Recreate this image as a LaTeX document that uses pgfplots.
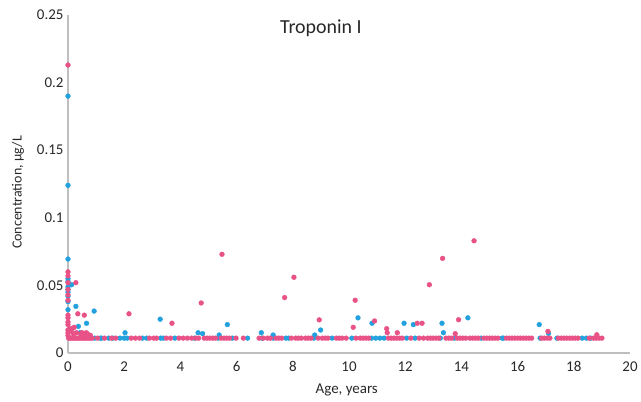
\documentclass[border=0pt]{standalone}
\usepackage{fontspec}
\setmainfont{Carlito}
\usepackage{pgfplots}
\pgfplotsset{compat=1.18}
\definecolor{pinkc}{RGB}{233,82,135}
\definecolor{bluec}{RGB}{34,161,222}
\definecolor{axgray}{RGB}{191,191,191}
\definecolor{txt}{RGB}{40,40,40}
\begin{document}
\begin{tikzpicture}
\begin{axis}[
  at={(0,0)}, anchor=south west,
  scale only axis, width=562bp, height=338bp,
  xmin=0, xmax=20, ymin=0, ymax=0.25,
  axis x line*=bottom, axis y line*=left,
  axis line style={draw=axgray, line width=1.3pt},
  major tick length=0pt,
  xtick={0,2,4,6,8,10,12,14,16,18,20},
  ytick={0,0.05,0.1,0.15,0.2,0.25},
  yticklabels={0,0.05,0.1,0.15,0.2,0.25},
  /pgf/number format/assume math mode=true,
  tick label style={font=\fontsize{15}{17}\selectfont, text=txt},
  xticklabel style={yshift=-5bp},
  yticklabel style={xshift=-1bp},
  clip=false,
  every axis plot/.append style={only marks, mark=*, mark size=2.4bp},
]
% blue series
\addplot[mark options={draw=bluec, fill=bluec}] coordinates {
(0,0.190) (0,0.124) (0,0.0695) (0,0.055) (0,0.053) (0.13,0.0505) (0,0.049) (0,0.047)
(0,0.045) (0,0.042) (0,0.038) (0.28,0.0345) (0,0.032) (0.93,0.031) (0.66,0.022) (0.37,0.0197)
(0.43,0.015) (0.6,0.013) (0.75,0.013) (3.28,0.025) (2.03,0.015) (4.63,0.015) (4.79,0.0143) (5.38,0.0133)
(5.67,0.021) (6.88,0.015) (7.3,0.0133) (8.78,0.0133) (8.99,0.017) (10.32,0.026) (10.82,0.022)
(11.96,0.022) (12.29,0.021) (13.31,0.022) (13.36,0.015) (14.23,0.026) (16.77,0.021) (17.1,0.0145)
(0.95,0.011) (1.15,0.011) (1.2,0.011) (1.45,0.011) (1.6,0.011) (1.85,0.011) (2.0,0.011) (2.1,0.011)
(2.65,0.011) (2.8,0.011) (3.3,0.011) (3.4,0.011) (3.8,0.011) (4.5,0.011) (5.35,0.011) (5.85,0.011)
(6.39,0.011) (6.9,0.011) (7.3,0.011) (7.75,0.011) (7.85,0.011) (8.75,0.011) (9.4,0.011) (10.1,0.011)
(10.8,0.011) (10.95,0.011) (11.1,0.011) (11.25,0.011) (12.05,0.011) (12.35,0.011) (13.25,0.011)
(13.75,0.011) (14.7,0.011) (15.45,0.011) (15.5,0.011) (16.8,0.011) (17.4,0.011) (18.3,0.011)
(18.45,0.011) (18.6,0.011)
};
% pink series
\addplot[mark options={draw=pinkc, fill=pinkc}] coordinates {
(0,0.213) (0,0.060) (0,0.057) (0,0.052) (0.28,0.052) (0,0.047) (0,0.043) (0,0.039)
(0.35,0.029) (0.58,0.028) (0,0.028) (0,0.026) (0,0.023) (0,0.021) (0,0.017) (0,0.015) (0,0.013)
(0.08,0.018) (0.15,0.018) (0.22,0.019) (0.12,0.016) (0.3,0.015) (0.45,0.014) (0.5,0.015)
(0.55,0.014) (0.65,0.015) (0.7,0.014) (0.8,0.013) (0.2,0.014)
(2.17,0.029) (3.7,0.022) (4.74,0.037) (5.48,0.073) (7.71,0.041) (8.04,0.056) (8.94,0.0245)
(10.15,0.019) (10.22,0.039) (10.91,0.0237) (11.34,0.018) (11.36,0.015) (11.72,0.015)
(12.43,0.022) (12.6,0.022) (12.86,0.0505) (13.33,0.070) (13.78,0.0143) (13.9,0.0246)
(14.45,0.083) (17.08,0.016) (18.82,0.0135)
(0.02,0.011) (0.08,0.011) (0.14,0.011) (0.2,0.011) (0.26,0.011) (0.32,0.011) (0.38,0.011)
(0.44,0.011) (0.5,0.011) (0.56,0.011) (0.62,0.011) (0.68,0.011) (0.74,0.011) (0.8,0.011)
(0.86,0.011) (1.05,0.011) (1.3,0.011) (1.55,0.011) (1.7,0.011) (2.25,0.011) (2.4,0.011)
(2.55,0.011) (2.9,0.011) (3.05,0.011) (3.15,0.011) (3.5,0.011) (3.65,0.011) (3.95,0.011)
(4.1,0.011) (4.25,0.011) (4.4,0.011) (4.55,0.011) (4.65,0.011) (4.85,0.011) (4.95,0.011)
(5.05,0.011) (5.15,0.011) (5.25,0.011) (5.45,0.011) (5.55,0.011) (5.65,0.011) (5.75,0.011)
(5.98,0.011) (6.24,0.011) (6.8,0.011) (6.95,0.011) (7.1,0.011) (7.2,0.011) (7.4,0.011)
(7.5,0.011) (7.6,0.011) (7.95,0.011) (8.1,0.011) (8.2,0.011) (8.3,0.011) (8.45,0.011)
(8.55,0.011) (8.65,0.011) (8.9,0.011) (9.05,0.011) (9.15,0.011) (9.25,0.011) (9.55,0.011)
(9.65,0.011) (9.75,0.011) (9.9,0.011) (10.25,0.011) (10.4,0.011) (10.5,0.011) (10.6,0.011)
(10.7,0.011) (11.4,0.011) (11.5,0.011) (11.6,0.011) (11.7,0.011) (11.8,0.011) (11.9,0.011)
(12.2,0.011) (12.5,0.011) (12.65,0.011) (12.8,0.011) (12.9,0.011) (13.0,0.011) (13.1,0.011)
(13.2,0.011) (13.45,0.011) (13.55,0.011) (13.65,0.011) (13.85,0.011) (13.95,0.011)
(14.05,0.011) (14.15,0.011) (14.3,0.011) (14.4,0.011) (14.5,0.011) (14.6,0.011) (14.8,0.011)
(14.9,0.011) (15.0,0.011) (15.1,0.011) (15.2,0.011) (15.3,0.011) (15.6,0.011) (15.7,0.011)
(15.8,0.011) (15.9,0.011) (16.0,0.011) (16.1,0.011) (16.2,0.011) (16.3,0.011) (16.4,0.011)
(16.5,0.011) (16.85,0.011) (16.95,0.011) (17.05,0.011) (17.15,0.011) (17.45,0.011)
(17.55,0.011) (17.65,0.011) (17.75,0.011) (17.85,0.011) (17.95,0.011) (18.05,0.011)
(18.15,0.011) (18.55,0.011) (18.7,0.011) (18.8,0.011) (18.9,0.011) (19.0,0.011)
};
\node[font=\fontsize{20}{22}\selectfont, text=txt] at (axis cs:9,0.2405) {Troponin I};
\node[font=\fontsize{15}{17}\selectfont, text=txt] at ([yshift=-37bp]axis description cs:0.496,0) {Age, years};
\node[font=\fontsize{14}{16}\selectfont, text=txt, rotate=90] at ([xshift=-50bp]axis description cs:0,0.475) {Concentration, µg/L};
\end{axis}
\path (-68bp,-49bp) rectangle (573bp,353bp);
\end{tikzpicture}
\end{document}
